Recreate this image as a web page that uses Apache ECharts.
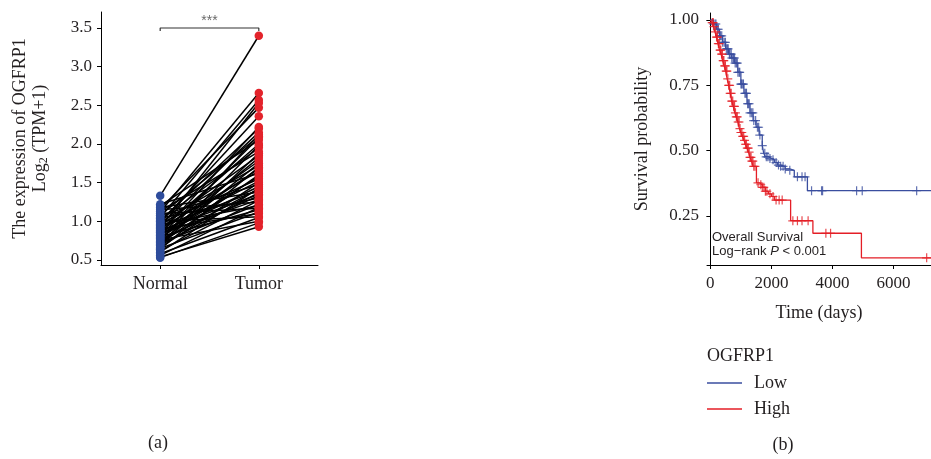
<!DOCTYPE html>
<html>
<head>
<meta charset="utf-8">
<script src="https://cdn.jsdelivr.net/npm/echarts@6/dist/echarts.min.js"></script>
<style>
html,body{margin:0;padding:0;background:#fff;}
#c{width:931px;height:459px;}
</style>
</head>
<body>
<div id="c"></div>
<script>
// ---------- Panel (a): paired expression ----------
var groups = ['Normal', 'Tumor'];
var normalExpr = [1.33,1.22,1.20,1.18,1.16,1.15,1.13,1.12,1.10,1.08,1.07,1.05,1.04,1.02,1.01,1.00,0.99,0.98,0.97,0.96,0.95,0.94,0.93,0.92,0.91,0.90,0.89,0.88,0.87,0.86,0.85,0.84,0.83,0.82,0.81,0.80,0.79,0.78,0.77,0.76,0.75,0.74,0.73,0.72,0.71,0.70,0.69,0.68,0.66,0.65,0.64,0.62,0.60,0.58,0.56,0.54,0.53];
var tumorExpr  = [3.40,1.62,2.05,1.38,2.47,1.25,1.90,2.66,1.17,2.10,1.48,2.57,1.30,1.95,2.20,1.06,1.72,2.36,1.55,1.20,2.15,1.85,1.40,2.53,1.65,1.10,2.00,1.35,1.78,1.52,2.22,1.28,1.45,1.68,2.08,1.15,1.58,1.82,1.33,1.00,2.12,1.42,1.75,1.22,1.60,1.98,1.37,1.88,1.50,1.12,1.70,1.27,1.43,1.05,1.18,0.93,0.98];
var exprTicks = [0.5,1.0,1.5,2.0,2.5,3.0,3.5];
var bracketLevel = 3.5;
var sigLabel = '***';

// ---------- Panel (b): Kaplan-Meier ----------
var lowTimes = [0,100,200,300,400,500,600,700,800,900,1000,1100,1200,1300,1400,1500,1600,1700,1750,1800,1900,2000,2100,2200,2300,2450,2600,2750,3180];
var lowSurv  = [1.0,0.985,0.965,0.94,0.915,0.89,0.87,0.855,0.835,0.80,0.755,0.72,0.68,0.645,0.615,0.59,0.56,0.52,0.49,0.477,0.47,0.465,0.455,0.445,0.44,0.43,0.425,0.40,0.347];
var lowLastFollow = 7400;
var lowCensor = [100,150,180,230,260,300,330,370,400,450,490,520,560,580,620,640,680,700,740,760,790,810,850,880,900,940,960,1000,1020,1060,1080,1130,1160,1180,1220,1240,1270,1300,1350,1390,1420,1480,1540,1580,1620,1700,1780,1830,1880,1950,2050,2150,2230,2300,2380,2450,2600,2850,3000,3100,3313,3641,3674,4789,4973,6757];

var highTimes = [0,50,100,150,200,250,300,350,400,450,500,550,600,650,700,750,800,850,900,950,1000,1050,1100,1150,1200,1250,1300,1350,1400,1510,1600,1700,1800,1900,2000,2100,2630,3360,4950];
var highSurv  = [1.0,0.99,0.975,0.955,0.935,0.91,0.885,0.87,0.845,0.825,0.805,0.775,0.75,0.72,0.69,0.67,0.645,0.63,0.61,0.585,0.57,0.555,0.54,0.525,0.51,0.495,0.475,0.46,0.44,0.377,0.37,0.36,0.345,0.335,0.325,0.311,0.232,0.184,0.09];
var highLastFollow = 7400;
var highCensor = [60,90,120,170,200,230,260,290,320,340,370,390,420,440,470,490,520,540,570,600,630,650,680,700,730,760,790,820,850,880,910,940,970,1000,1030,1060,1090,1120,1150,1180,1210,1240,1270,1300,1330,1360,1390,1420,1460,1560,1650,1700,1750,1800,1850,1950,2050,2150,2250,2350,2700,2850,3000,3200,3782,3936,7085];

var survTicks = [0.25,0.50,0.75,1.00];
var timeTicks = [0,2000,4000,6000];
var groupNames = ['Low','High'];

// ---------- styles ----------
var serif = '"Liberation Serif","Times New Roman",serif';
var sans = '"Liberation Sans",Arial,sans-serif';
var txt = '#231F20';
var blueDot = '#2E4C9C', redDot = '#E3232B';
var blueLine = '#3A4E9F', redLine = '#E41E26';

function stepData(times, surv, last) {
  var d = times.map(function (t, i) { return [t, surv[i]]; });
  d.push([last, surv[surv.length - 1]]);
  return d;
}
function survAt(times, surv, t) {
  var s = surv[0];
  for (var i = 0; i < times.length; i++) { if (times[i] <= t) s = surv[i]; }
  return s;
}
var plusSym = 'path://M4,0h1.2v4h3.8v1.2h-3.8v3.8h-1.2v-3.8h-4v-1.2h4z';

var pairLines = normalExpr.map(function (n, i) {
  return { coords: [[0, n], [1, tumorExpr[i]]] };
});

var chart = echarts.init(document.getElementById('c'), null, {renderer: 'canvas'});
chart.setOption({
  animation: false,
  backgroundColor: '#fff',
  grid: [
    {left: 101, right: 931 - 318, top: 12, bottom: 459 - 265},
    {left: 707, right: 0, top: 13, bottom: 459 - 265}
  ],
  xAxis: [
    {
      gridIndex: 0, type: 'value', min: -0.6, max: 1.6,
      axisLine: {onZero: false, lineStyle: {color: '#000', width: 1}},
      axisTick: {show: true, length: 4, customValues: [0, 1], lineStyle: {color: '#000'}},
      axisLabel: {customValues: [0, 1], formatter: function (v) { return groups[Math.round(v)]; },
        fontFamily: serif, fontSize: 18, color: txt, margin: 10},
      splitLine: {show: false}
    },
    {
      gridIndex: 1, type: 'value', min: -110, max: 7230,
      axisLine: {onZero: false, lineStyle: {color: '#000', width: 1}},
      axisTick: {show: true, length: 4, customValues: timeTicks, lineStyle: {color: '#000'}},
      axisLabel: {customValues: timeTicks, formatter: function (v) { return String(v); },
        fontFamily: serif, fontSize: 17, color: txt, margin: 10},
      splitLine: {show: false},
      name: 'Time (days)', nameLocation: 'middle', nameGap: 38,
      nameTextStyle: {fontFamily: serif, fontSize: 18, color: txt, lineHeight: 20}
    }
  ],
  yAxis: [
    {
      gridIndex: 0, type: 'value', min: 0.435, max: 3.707,
      axisLine: {show: true, onZero: false, lineStyle: {color: '#000', width: 1}},
      axisTick: {show: true, length: 4, customValues: exprTicks, lineStyle: {color: '#000'}},
      axisLabel: {customValues: exprTicks, formatter: function (v) { return v.toFixed(1); },
        fontFamily: serif, fontSize: 17, color: txt, margin: 9},
      splitLine: {show: false},
      name: 'The expression of OGFRP1\n{a|Log}{s|2}{a| (TPM+1)}',
      nameLocation: 'middle', nameRotate: 90, nameGap: 51,
      nameTextStyle: {fontFamily: serif, fontSize: 18, color: txt, lineHeight: 20,
        rich: {a: {fontFamily: serif, fontSize: 18, color: txt, lineHeight: 20},
               s: {fontFamily: serif, fontSize: 12, color: txt, lineHeight: 20, padding: [8, 0, 0, 0]}}}
    },
    {
      gridIndex: 1, type: 'value', min: 0.0625, max: 1.0268,
      axisLine: {show: true, onZero: true, lineStyle: {color: '#000', width: 1}},
      axisTick: {show: true, length: 4, customValues: survTicks, lineStyle: {color: '#000'}},
      axisLabel: {customValues: survTicks, formatter: function (v) { return v.toFixed(2); },
        fontFamily: serif, fontSize: 17, color: txt, margin: 8},
      splitLine: {show: false},
      name: 'Survival probability', nameLocation: 'middle', nameRotate: 90, nameGap: 55,
      nameTextStyle: {fontFamily: serif, fontSize: 18, color: txt, lineHeight: 20}
    }
  ],
  legend: {
    data: groupNames, orient: 'vertical', left: 707, top: 374, padding: 0,
    icon: 'rect', itemWidth: 35, itemHeight: 1.5, itemGap: 8,
    textStyle: {fontFamily: serif, fontSize: 18, color: txt, padding: [0, 0, 0, 7]},
    selectedMode: false
  },
  graphic: [
    {type: 'text', left: 707, top: 347, style: {text: 'OGFRP1', font: '18px ' + serif, fill: txt}},
    {type: 'text', x: 158, y: 443, style: {text: '(a)', font: '18px ' + serif, fill: txt, align: 'center', verticalAlign: 'middle'}},
    {type: 'text', x: 783, y: 445, style: {text: '(b)', font: '18px ' + serif, fill: txt, align: 'center', verticalAlign: 'middle'}},
    {type: 'text', x: 712, y: 237, style: {text: 'Overall Survival', font: '13px ' + sans, fill: txt, verticalAlign: 'middle'}},
    {type: 'text', x: 712, y: 251, style: {
      text: '{r|Log\u2212rank }{i|P}{r| < 0.001}',
      verticalAlign: 'middle',
      rich: {r: {font: '13px ' + sans, fill: txt}, i: {font: 'italic 13px ' + sans, fill: txt}}
    }}
  ],
  series: [
    {
      type: 'lines', coordinateSystem: 'cartesian2d', xAxisIndex: 0, yAxisIndex: 0,
      data: pairLines, lineStyle: {color: '#000', width: 1.5, opacity: 1}, silent: true, z: 2
    },
    {
      type: 'line', xAxisIndex: 0, yAxisIndex: 0, symbol: 'none', silent: true,
      data: [[0, bracketLevel - 0.04], [0, bracketLevel], [1, bracketLevel], [1, bracketLevel - 0.04]],
      lineStyle: {color: '#333', width: 1.2}, z: 2
    },
    {
      type: 'scatter', xAxisIndex: 0, yAxisIndex: 0, symbolSize: 0, silent: true,
      data: [[0.5, bracketLevel]],
      label: {show: true, position: 'top', distance: 0, formatter: sigLabel, fontFamily: sans, fontSize: 14, color: '#444'}
    },
    {
      type: 'scatter', name: 'NormalPts', xAxisIndex: 0, yAxisIndex: 0, symbolSize: 8.5,
      itemStyle: {color: blueDot, opacity: 1}, z: 3,
      data: normalExpr.map(function (v) { return [0, v]; })
    },
    {
      type: 'scatter', name: 'TumorPts', xAxisIndex: 0, yAxisIndex: 0, symbolSize: 8.5,
      itemStyle: {color: redDot, opacity: 1}, z: 3,
      data: tumorExpr.map(function (v) { return [1, v]; })
    },
    {
      type: 'line', name: 'Low', xAxisIndex: 1, yAxisIndex: 1, step: 'end', symbol: 'none',
      color: blueLine, lineStyle: {color: blueLine, width: 1.3},
      data: stepData(lowTimes, lowSurv, lowLastFollow), z: 3
    },
    {
      type: 'line', name: 'High', xAxisIndex: 1, yAxisIndex: 1, step: 'end', symbol: 'none',
      color: redLine, lineStyle: {color: redLine, width: 1.3},
      data: stepData(highTimes, highSurv, highLastFollow), z: 4
    },
    {
      type: 'scatter', name: 'LowCensor', xAxisIndex: 1, yAxisIndex: 1, symbol: plusSym, symbolSize: 9,
      itemStyle: {color: blueLine}, z: 3,
      data: lowCensor.map(function (t) { return [t, survAt(lowTimes, lowSurv, t)]; })
    },
    {
      type: 'scatter', name: 'HighCensor', xAxisIndex: 1, yAxisIndex: 1, symbol: plusSym, symbolSize: 9,
      itemStyle: {color: redLine}, z: 4,
      data: highCensor.map(function (t) { return [t, survAt(highTimes, highSurv, t)]; })
    }
  ]
});
</script>
</body>
</html>
